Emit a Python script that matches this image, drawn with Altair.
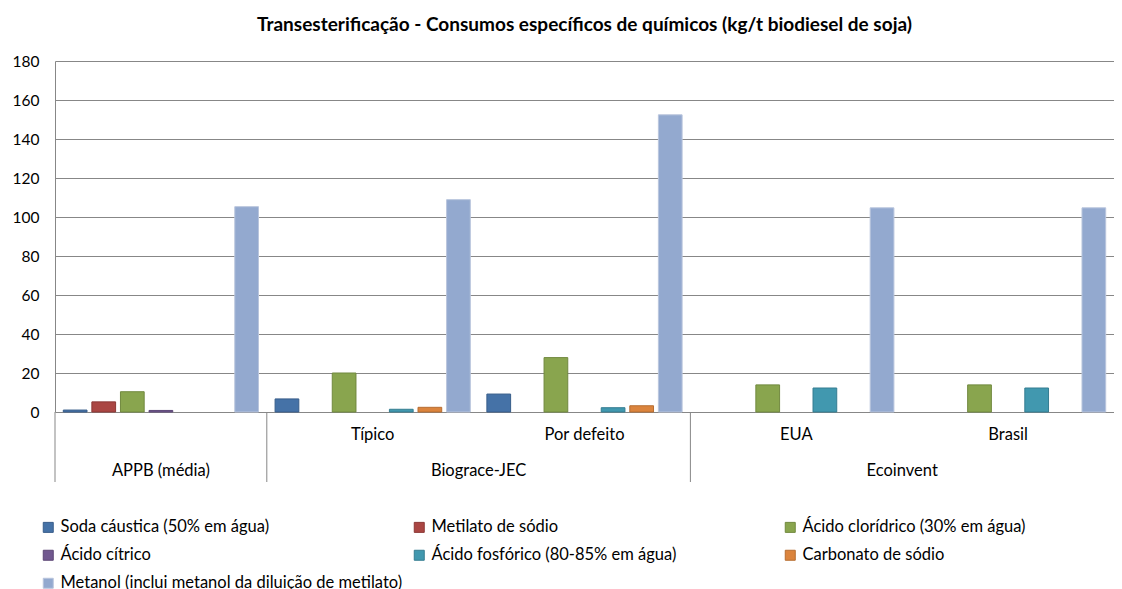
import altair as alt
import pandas as pd

categories = ["APPB (média)", "Típico", "Por defeito", "EUA", "Brasil"]
level1_labels = ["", "Típico", "Por defeito", "EUA", "Brasil"]
groups = ["APPB (média)", "Biograce-JEC", "Ecoinvent"]
group_centers = [0.5, 2.0, 4.0]
separators = [0, 1, 3]

series = [
    "Soda cáustica (50% em água)",
    "Metilato de sódio",
    "Ácido clorídrico (30% em água)",
    "Ácido cítrico",
    "Ácido fosfórico (80-85% em água)",
    "Carbonato de sódio",
    "Metanol (inclui metanol da diluição de metilato)",
]
colors = ["#4572A7", "#AA4643", "#89A54E", "#71588F", "#4198AF", "#DB843D", "#93A9CF"]
strokes = ["#385D8A", "#8C3836", "#71893F", "#5C4776", "#357D91", "#B66D31", "#B9C5DD"]

soda = [1.0, 6.7, 9.2, None, None]
metilato = [5.2, None, None, None, None]
cloridrico = [10.4, 20.0, 27.9, 13.9, 13.9]
citrico = [0.8, None, None, None, None]
fosforico = [None, 1.4, 2.2, 12.3, 12.3]
carbonato = [None, 2.4, 3.2, None, None]
metanol = [105.3, 108.9, 152.4, 104.7, 104.7]

values = [soda, metilato, cloridrico, citrico, fosforico, carbonato, metanol]

rows = []
for s, vals in zip(series, values):
    for c, v in zip(categories, vals):
        if v is not None:
            rows.append({"cat": c, "series": s, "value": v})
df = pd.DataFrame(rows)

W, H = 1059, 351
GRAY = "#878787"
FONT = "Lato"
FS = 16.5

xband = alt.Scale(domain=categories, paddingInner=0, paddingOuter=0)
xlin = alt.Scale(domain=[0, 5], nice=False, zero=False)

bars = alt.Chart(df).mark_bar(strokeWidth=1).encode(
    x=alt.X("cat:N", scale=xband, axis=None),
    xOffset=alt.XOffset("series:N",
                        scale=alt.Scale(domain=series, paddingInner=0.17, paddingOuter=0.29)),
    y=alt.Y("value:Q", scale=alt.Scale(domain=[0, 180], nice=False),
            axis=alt.Axis(values=list(range(0, 181, 20)), title=None, grid=True,
                          gridColor=GRAY, gridWidth=1, domainColor=GRAY, ticks=False,
                          labelPadding=16, labelFontSize=15.5, labelFont=FONT,
                          labelColor="#000000")),
    color=alt.Color("series:N",
                    scale=alt.Scale(domain=series, range=colors),
                    legend=alt.Legend(title=None, orient="none", legendX=-15, legendY=458,
                                      direction="horizontal",
                                      columns=3, gridAlign="all", columnPadding=8,
                                      rowPadding=11, symbolType="square", symbolSize=100,
                                      symbolStrokeWidth=1, labelFontSize=FS, labelFont=FONT,
                                      labelColor="#000000", labelLimit=500)),
    stroke=alt.Stroke("series:N",
                      scale=alt.Scale(domain=series, range=strokes), legend=None),
)

lvl1_df = pd.DataFrame({"cat": categories, "label": level1_labels})
lvl1 = alt.Chart(lvl1_df).mark_text(fontSize=FS, font=FONT, baseline="middle",
                                     color="#000000").encode(
    x=alt.X("cat:N", scale=xband, axis=None),
    y=alt.value(H + 23),
    text="label:N",
)

lvl2_df = pd.DataFrame({"pos": group_centers, "label": groups})
lvl2 = alt.Chart(lvl2_df).mark_text(fontSize=FS, font=FONT, baseline="middle",
                                     color="#000000").encode(
    x=alt.X("pos:Q", scale=xlin, axis=None),
    y=alt.value(H + 59),
    text="label:N",
)

sep_df = pd.DataFrame({"pos": separators})
seps = alt.Chart(sep_df).mark_rule(color=GRAY, strokeWidth=1).encode(
    x=alt.X("pos:Q", scale=xlin, axis=None),
    y=alt.value(H),
    y2=alt.value(H + 70),
)

chart = alt.layer(bars, seps, lvl1, lvl2).resolve_scale(x="independent").properties(
    width=W,
    height=H,
    title=alt.Title("Transesterificação - Consumos específicos de químicos  (kg/t biodiesel de soja)",
                    fontSize=19, fontWeight="bold", font=FONT, anchor="middle",
                    baseline="bottom", offset=0, color="#000000"),
    autosize=alt.AutoSizeParams(type="none"),
    padding={"left": 47, "top": 53, "right": 0, "bottom": 178},
).configure_view(stroke=None)

chart.save("out.html", embed_options={"renderer": "svg", "actions": False})
